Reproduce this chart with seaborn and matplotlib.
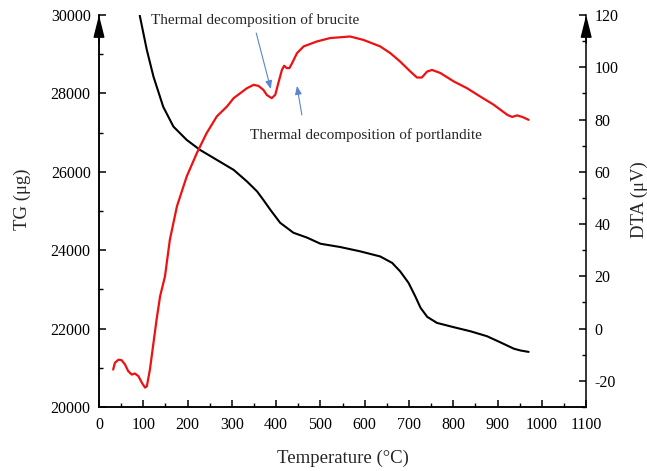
import matplotlib
matplotlib.use("Agg")
import matplotlib.pyplot as plt
import numpy as np
import seaborn as sns
from matplotlib.ticker import MultipleLocator

# TG curve (black, left axis)
tg_temp = [92, 108, 123, 145, 168, 198, 228, 266, 304, 334, 357, 371, 387, 409, 439,
           470, 500, 545, 590, 635, 662, 680, 699, 714, 726, 741, 763, 801, 839, 876,
           906, 937, 952, 970]
tg_mass = [29990, 29110, 28430, 27660, 27155, 26815, 26560, 26305, 26050, 25755, 25500,
           25285, 25030, 24700, 24445, 24320, 24165, 24080, 23970, 23840, 23675, 23460,
           23165, 22825, 22530, 22300, 22145, 22035, 21930, 21805, 21650, 21485, 21440,
           21405]

# DTA curve (red, right axis)
dta_temp = [32, 36, 44, 51, 59, 66, 74, 81, 89, 97, 104, 108, 115, 123, 130, 138, 149,
            160, 176, 198, 221, 243, 266, 289, 304, 319, 334, 349, 360, 371, 379, 390,
            398, 405, 413, 418, 424, 430, 436, 447, 462, 492, 522, 567, 597, 635, 658,
            680, 703, 718, 729, 741, 752, 771, 801, 831, 861, 891, 922, 933, 944, 956, 970]
dta_signal = [-15.7, -13.1, -11.9, -12.1, -13.8, -16.3, -17.6, -17.2, -18.2, -20.8, -22.6,
              -22.1, -15.7, -5.5, 3.4, 12.4, 20, 34, 46.8, 58.2, 67.2, 74.8, 81.2, 85,
              88.2, 90.1, 92, 93.3, 92.9, 91.4, 89.4, 88.2, 89.5, 94, 99, 100.6, 99.7,
              99.7, 101.6, 105.4, 108, 109.9, 111.2, 111.8, 110.5, 108, 105.4, 102.2, 98.4,
              96.1, 96.1, 98.4, 99, 97.8, 94.6, 92, 88.8, 85.7, 81.8, 81, 81.6, 81, 79.9]

x_ticks = list(range(0, 1101, 100))
tg_ticks = list(range(20000, 30001, 2000))
dta_ticks = list(range(-20, 121, 20))

sns.set_theme(style="ticks")
plt.rcParams["font.family"] = ["Liberation Serif", "DejaVu Serif"]
plt.rcParams["axes.unicode_minus"] = False

fig = plt.figure(figsize=(6.47, 4.71), dpi=100)
ax = fig.add_axes([0.153, 0.136, 0.753, 0.832])
ax2 = ax.twinx()

sns.lineplot(x=tg_temp, y=tg_mass, ax=ax, color="black", linewidth=1.5, sort=False)
sns.lineplot(x=dta_temp, y=dta_signal, ax=ax2, color="#ee1111", linewidth=1.6, sort=False)

ax.set_xlim(0, 1100)
ax.set_ylim(20000, 30000)
ax2.set_ylim(-30, 120)
ax.set_xticks(x_ticks)
ax.set_yticks(tg_ticks)
ax2.set_yticks(dta_ticks)
ax.xaxis.set_minor_locator(MultipleLocator(50))
ax.yaxis.set_minor_locator(MultipleLocator(1000))
ax2.yaxis.set_minor_locator(MultipleLocator(10))

for a in (ax, ax2):
    a.spines["top"].set_visible(False)
    for s in a.spines.values():
        s.set_linewidth(1.1)
        s.set_color("black")
    a.tick_params(which="major", direction="in", length=5, width=1.1, labelsize=11.5,
                  colors="black", pad=6)
    a.tick_params(which="minor", direction="in", length=3, width=1.0, colors="black")
ax.spines["right"].set_visible(False)
ax.tick_params(axis="x", pad=7)

ax.set_xlabel("Temperature (°C)", fontsize=13.5, labelpad=12)
ax.set_ylabel("TG (μg)", fontsize=13.5)
ax.yaxis.set_label_coords(-0.139, 0.53)
ax2.set_ylabel("DTA (μV)", fontsize=13.5, rotation=90)
ax2.yaxis.set_label_coords(1.092, 0.53)

# arrow heads on top of y axes
for xa in (0, 1):
    ax.annotate("", xy=(xa, 1.0), xycoords="axes fraction",
                xytext=(0, -20), textcoords="offset points",
                arrowprops=dict(arrowstyle="-|>,head_length=0.4,head_width=0.1",
                                mutation_scale=34, color="black", lw=1.1,
                                shrinkA=0, shrinkB=0))

# annotations
blue = "#5b87cc"
ax.text(353, 29874, "Thermal decomposition of brucite", ha="center", va="center",
        fontsize=11)
ax.annotate("", xy=(388, 28110), xytext=(355, 29542),
            arrowprops=dict(arrowstyle="-|>,head_length=0.5,head_width=0.2",
                            mutation_scale=10, color=blue, lw=0.8, shrinkA=0, shrinkB=0))
ax.text(603, 26943, "Thermal decomposition of portlandite", ha="center", va="center",
        fontsize=11)
ax.annotate("", xy=(447, 28192), xytext=(458, 27453),
            arrowprops=dict(arrowstyle="-|>,head_length=0.5,head_width=0.2",
                            mutation_scale=10, color=blue, lw=0.8, shrinkA=0, shrinkB=0))

fig.savefig("out.png", dpi=100)
